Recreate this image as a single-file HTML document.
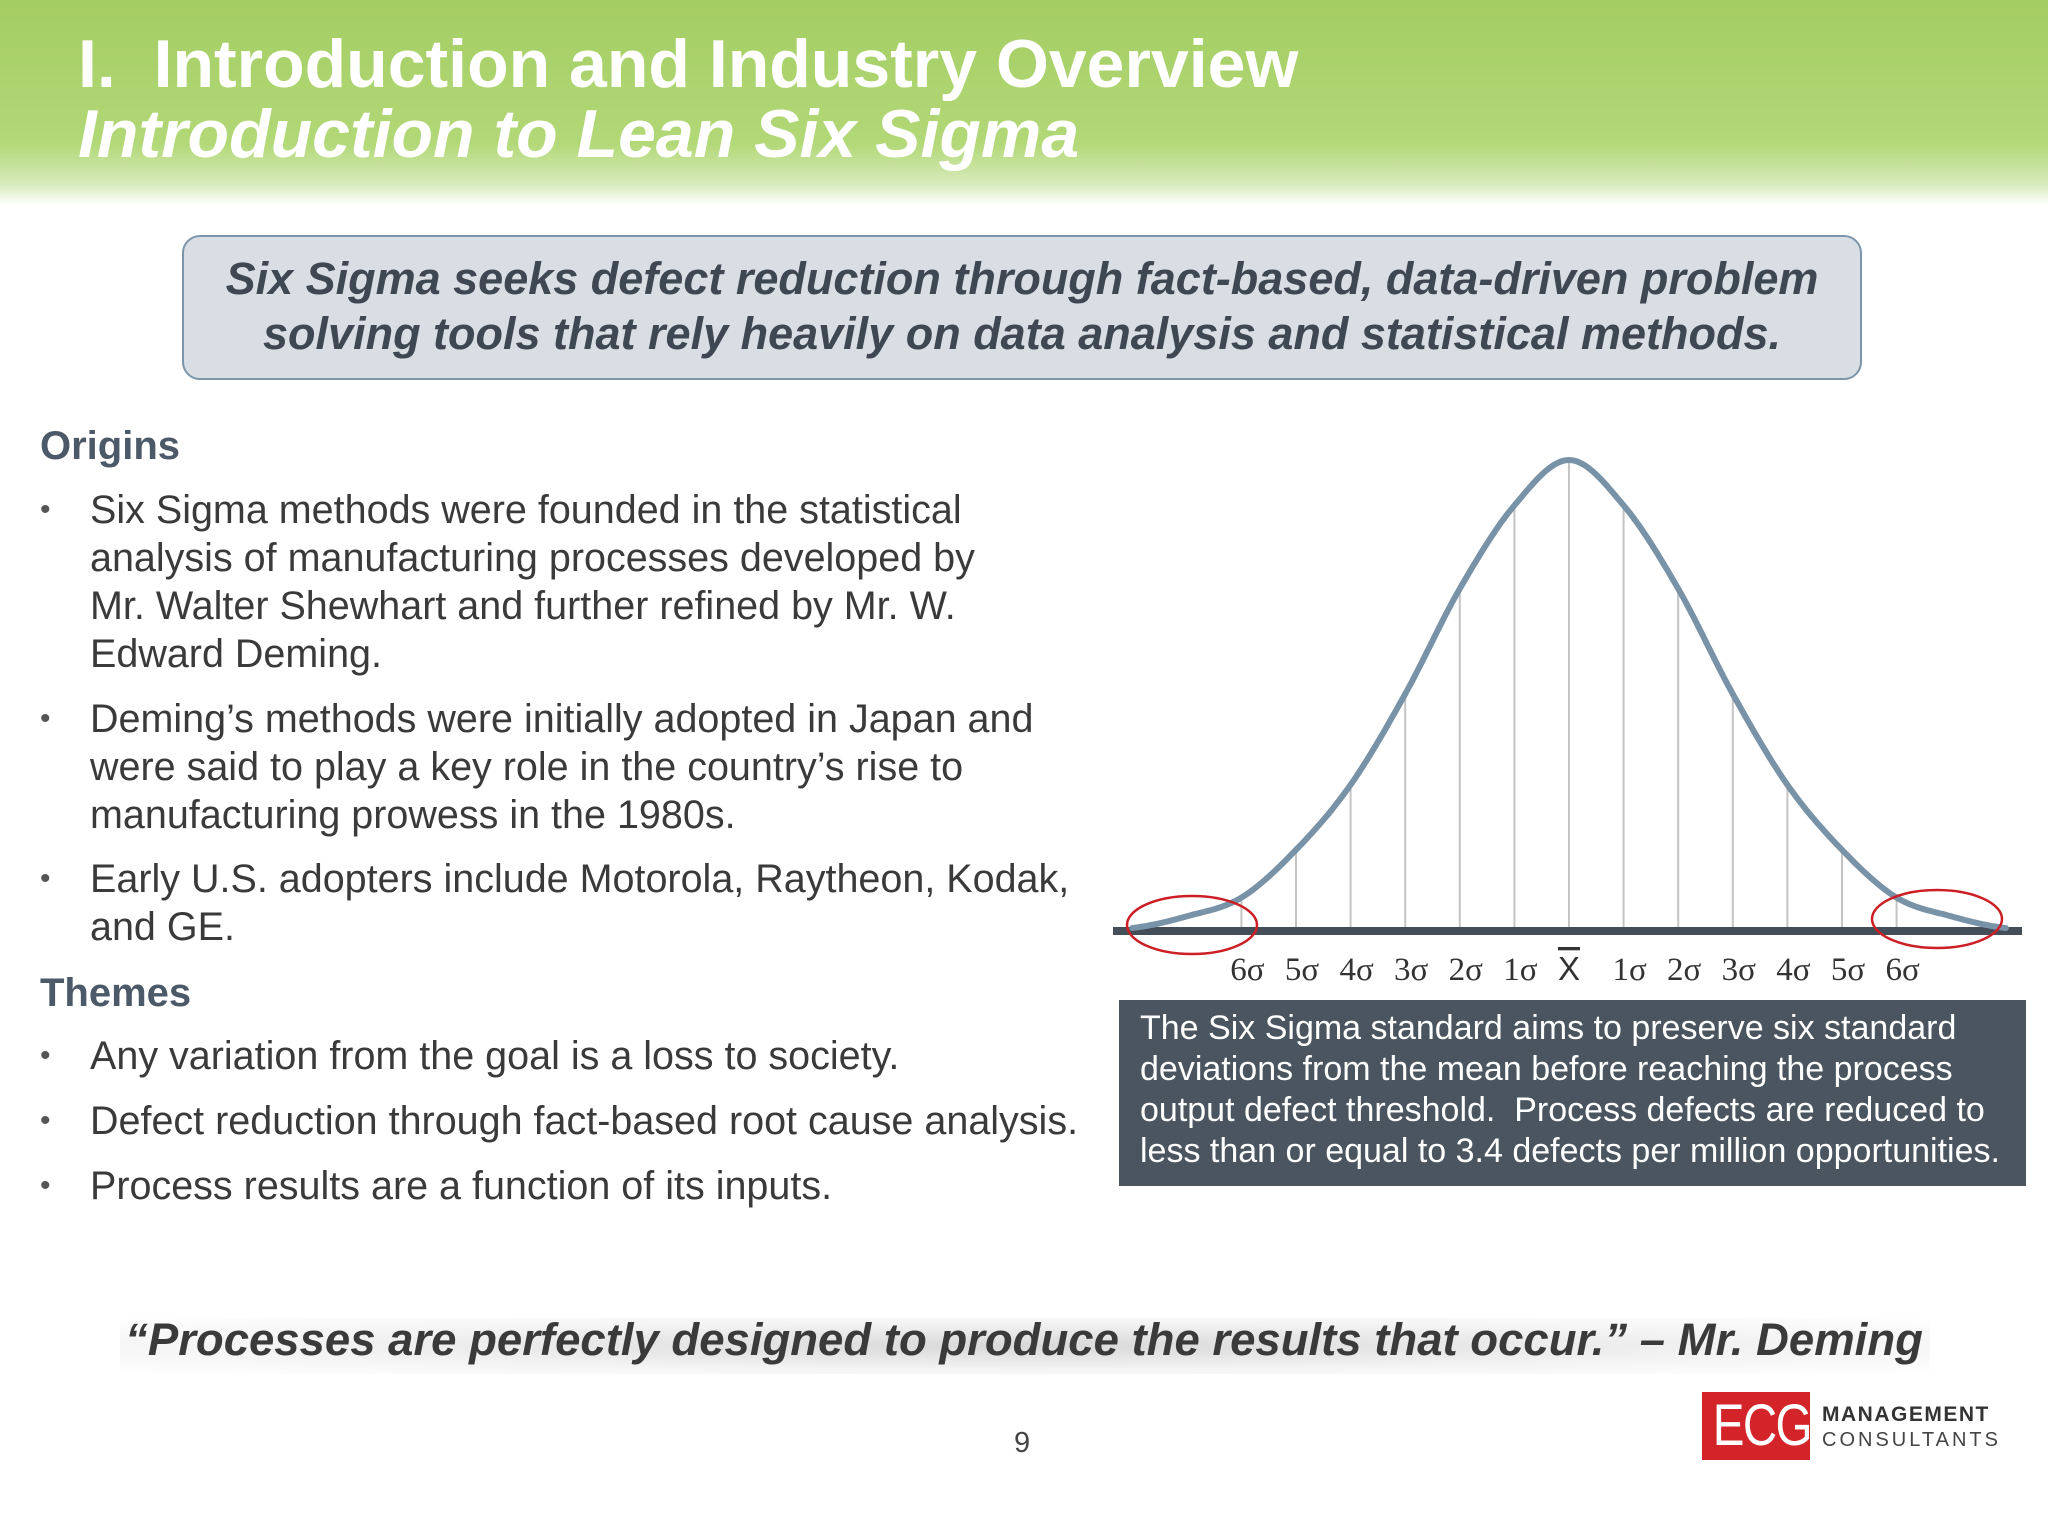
<!DOCTYPE html>
<html><head><meta charset="utf-8">
<style>
body{margin:0;width:2048px;height:1536px;background:#fff;font-family:"Liberation Sans",sans-serif;position:relative;overflow:hidden}
.abs{position:absolute}
#hdr{left:0;top:0;width:2048px;height:205px;background:linear-gradient(180deg,#a4cd63 0%,#b2d877 70%,#d8ebbd 90%,#fff 100%)}
.t{color:#fff;font-weight:bold;font-size:68px;left:78px;white-space:nowrap}
#box{left:182px;top:235px;width:1680px;height:145px;border:2px solid #7d95ab;border-radius:18px;background:#d9dee4;color:#3f4852;font-weight:bold;font-style:italic;font-size:45px;text-align:center;line-height:55px;box-sizing:border-box;padding-top:14px;white-space:nowrap}
.h{font-weight:bold;font-size:40px;color:#4b5968;left:40px}
.b{font-size:39.5px;color:#3a3a3a;left:90px;line-height:48px;white-space:nowrap}
.dot{font-size:30px;color:#555;left:40px}
#cap{left:1119px;top:1000px;width:907px;height:186px;background:#4a5560;color:#fff;font-size:34px;line-height:41px;padding:8px 0 0 21px;box-sizing:border-box;white-space:nowrap}
#quote{left:0;width:2048px;text-align:center;top:1314px;font-size:45.5px;font-weight:bold;font-style:italic;color:#3a3a3a;white-space:nowrap}
</style></head><body>
<div id="hdr" class="abs"></div>
<div class="abs t" style="top:25px">I.&nbsp; Introduction and Industry Overview</div>
<div class="abs t" style="top:95px;font-style:italic">Introduction to Lean Six Sigma</div>
<div id="box" class="abs">Six Sigma seeks defect reduction through fact-based, data-driven problem<br>solving tools that rely heavily on data analysis and statistical methods.</div>

<div class="abs h" style="top:424px">Origins</div>
<div class="abs dot" style="top:493px">•</div>
<div class="abs b" style="top:486px">Six Sigma methods were founded in the statistical<br>analysis of manufacturing processes developed by<br>Mr. Walter Shewhart and further refined by Mr. W.<br>Edward Deming.</div>
<div class="abs dot" style="top:702px">•</div>
<div class="abs b" style="top:695px">Deming’s methods were initially adopted in Japan and<br>were said to play a key role in the country’s rise to<br>manufacturing prowess in the 1980s.</div>
<div class="abs dot" style="top:862px">•</div>
<div class="abs b" style="top:855px">Early U.S. adopters include Motorola, Raytheon, Kodak,<br>and GE.</div>
<div class="abs h" style="top:971px">Themes</div>
<div class="abs dot" style="top:1039px">•</div>
<div class="abs b" style="top:1032px">Any variation from the goal is a loss to society.</div>
<div class="abs dot" style="top:1104px">•</div>
<div class="abs b" style="top:1097px">Defect reduction through fact-based root cause analysis.</div>
<div class="abs dot" style="top:1169px">•</div>
<div class="abs b" style="top:1162px">Process results are a function of its inputs.</div>

<svg id="chart" class="abs" style="left:0;top:0" width="2048" height="1536"></svg>

<div id="cap" class="abs">The Six Sigma standard aims to preserve six standard<br>deviations from the mean before reaching the process<br>output defect threshold.&nbsp; Process defects are reduced to<br>less than or equal to 3.4 defects per million opportunities.</div>

<div class="abs" style="left:120px;top:1318px;width:1810px;height:56px;background:radial-gradient(ellipse at center,rgba(170,170,170,0.45) 0%,rgba(200,200,200,0.2) 60%,rgba(255,255,255,0) 100%)"></div>
<div id="quote" class="abs">“Processes are perfectly designed to produce the results that occur.” – Mr. Deming</div>
<div class="abs" style="left:1014px;top:1427px;font-size:29px;color:#444">9</div>

<div class="abs" style="left:1702px;top:1392px;width:108px;height:68px;background:#d3242a;color:#fff;font-size:58px;line-height:68px;text-align:center;letter-spacing:-2px;overflow:hidden"><span style="display:inline-block;transform:scaleX(0.82)">ECG</span></div>
<div class="abs" style="left:1822px;top:1403px;font-size:21px;font-weight:bold;color:#333;letter-spacing:1.5px">MANAGEMENT</div>
<div class="abs" style="left:1822px;top:1429px;font-size:20px;color:#444;letter-spacing:3px">CONSULTANTS</div>

<script>
const sigmaUnits=[-8,-7,-6,-5,-4,-3,-2,-1,0,1,2,3,4,5,6,7,8];
const curveHeights=[0,0.025,0.065,0.167,0.306,0.5,0.725,0.903,1,0.903,0.725,0.5,0.306,0.167,0.065,0.025,0];
const tickUnits=[-6,-5,-4,-3,-2,-1,0,1,2,3,4,5,6];
const tickLabels=["6σ","5σ","4σ","3σ","2σ","1σ","X","1σ","2σ","3σ","4σ","5σ","6σ"];
const NS="http://www.w3.org/2000/svg";
const svg=document.getElementById('chart');
const cx=1569,unit=54.6,base=928,peakH=468;
const X=u=>cx+u*unit, Y=h=>base-h*peakH;
function interp(u){for(let i=0;i<sigmaUnits.length-1;i++){if(u>=sigmaUnits[i]&&u<=sigmaUnits[i+1]){
  const p0=curveHeights[Math.max(i-1,0)],p1=curveHeights[i],p2=curveHeights[i+1],p3=curveHeights[Math.min(i+2,curveHeights.length-1)];
  const t=(u-sigmaUnits[i])/(sigmaUnits[i+1]-sigmaUnits[i]);
  return 0.5*((2*p1)+(-p0+p2)*t+(2*p0-5*p1+4*p2-p3)*t*t+(-p0+3*p1-3*p2+p3)*t*t*t);}}return 0;}
function mk(tag,attrs){const e=document.createElementNS(NS,tag);for(const k in attrs)e.setAttribute(k,attrs[k]);svg.appendChild(e);return e;}
tickUnits.forEach((u,i)=>{
  const l=mk('line',{x1:X(u),x2:X(u),y1:base,y2:Y(interp(u)),stroke:'#c4c4c4','stroke-width':2});
  
  
  const t=mk('text',{x:X(u)+(u===0?0:6),y:980,'font-family':'Liberation Serif, serif','font-size':33,fill:'#333','text-anchor':'middle'});
  t.textContent=tickLabels[i];
  if(u===0){t.setAttribute('font-family','Liberation Sans, sans-serif');t.setAttribute('text-decoration','overline');}
  
  
});
const ax=mk('line',{x1:1113,x2:2022,y1:base+3,y2:base+3,stroke:'#434e59','stroke-width':8});


let d='';const u0=sigmaUnits[0],u1=sigmaUnits[sigmaUnits.length-1];
for(let u=u0;u<=u1+1e-9;u+=0.05){d+=(d?'L':'M')+X(u).toFixed(1)+','+Y(interp(u)).toFixed(1);}
const c=mk('path',{d:d,fill:'none',stroke:'#7892a8','stroke-width':6,'stroke-linecap':'round'});


[[1192,925],[1937,919]].forEach(p=>{
  const e=mk('ellipse',{cx:p[0],cy:p[1],rx:65,ry:29,fill:'none',stroke:'#cc1f25','stroke-width':2.5});
  
  
});
</script>
</body></html>
